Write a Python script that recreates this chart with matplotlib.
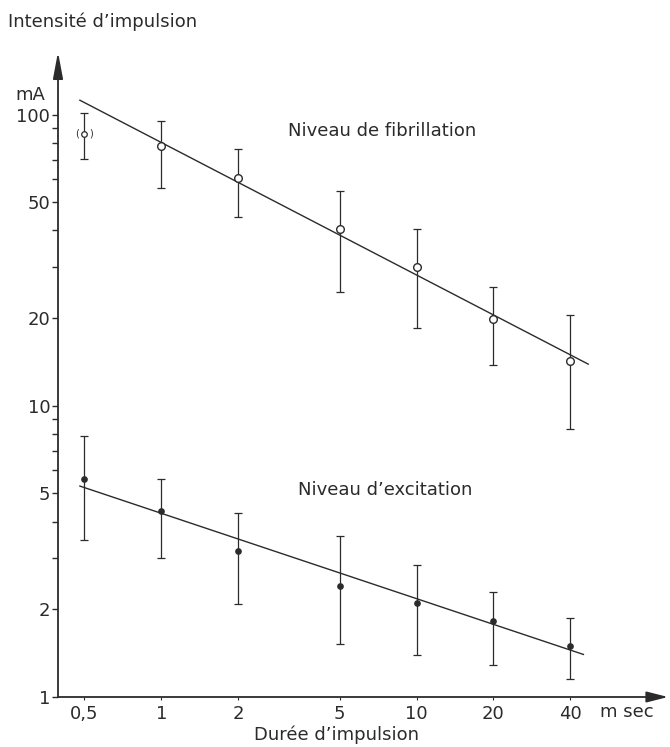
"""Seuils de fibrillation et d'excitation en fonction de la durée d'impulsion."""

import matplotlib
matplotlib.use("Agg")
import matplotlib.pyplot as plt
from matplotlib.ticker import FixedLocator, NullFormatter

# durées d'impulsion (ms)
durations = [0.5, 1, 2, 5, 10, 20, 40]

# niveau de fibrillation (mA), cercles ouverts
fib_mean = [86, 78, 60.5, 40.5, 30, 19.8, 14.2]
fib_low = [70.5, 56, 44.5, 24.5, 18.5, 13.8, 8.3]
fib_high = [101, 95, 76, 54.5, 40.5, 25.5, 20.5]
fib_fit_x = [0.48, 47]
fib_fit_y = [112, 13.9]

# niveau d'excitation (mA), points pleins
exc_mean = [5.6, 4.35, 3.16, 2.41, 2.11, 1.82, 1.5]
exc_low = [3.47, 2.99, 2.08, 1.52, 1.39, 1.29, 1.15]
exc_high = [7.9, 5.6, 4.28, 3.58, 2.83, 2.3, 1.87]
exc_fit_x = [0.48, 45]
exc_fit_y = [5.3, 1.4]

y_ticks = [1, 2, 5, 10, 20, 50, 100]
y_minor = [3, 4, 6, 7, 8, 9, 30, 40, 60, 70, 80, 90]
x_labels = ["0,5", "1", "2", "5", "10", "20", "40"]

INK = "#2b2b2b"
W, H = 670, 747

plt.rcParams["font.family"] = ["DejaVu Sans"]

fig = plt.figure(figsize=(W / 100, H / 100), dpi=100)
ax = fig.add_axes([58 / W, 50 / H, 610 / W, 645 / H])
ax.set_xscale("log")
ax.set_yscale("log")
ax.set_xlim(0.394, 96.5)
ax.set_ylim(1, 164)

for side in ["top", "right", "left", "bottom"]:
    ax.spines[side].set_visible(False)

# axes avec flèches
ax.annotate("", xy=(0, 1), xytext=(0, 0), xycoords="axes fraction",
            arrowprops=dict(arrowstyle="-|>,head_length=1.6,head_width=0.3",
                            lw=1.3, color=INK, shrinkA=0, shrinkB=0),
            annotation_clip=False)
ax.annotate("", xy=(1, 0), xytext=(0, 0), xycoords="axes fraction",
            arrowprops=dict(arrowstyle="-|>,head_length=1.3,head_width=0.33",
                            lw=1.3, color=INK, shrinkA=0, shrinkB=0),
            annotation_clip=False)

ax.yaxis.set_major_locator(FixedLocator(y_ticks))
ax.yaxis.set_minor_locator(FixedLocator(y_minor))
ax.yaxis.set_minor_formatter(NullFormatter())
ax.set_yticklabels([str(v) for v in y_ticks])
ax.tick_params(axis="y", which="both", direction="out", length=4.5,
               width=1.0, color=INK, labelsize=13, labelcolor=INK, pad=1)

ax.xaxis.set_major_locator(FixedLocator(durations))
ax.xaxis.set_minor_formatter(NullFormatter())
ax.xaxis.set_minor_locator(FixedLocator([]))
ax.set_xticklabels(x_labels)
ax.tick_params(axis="x", which="both", direction="out", length=2,
               width=0.8, color=INK, labelsize=13, labelcolor=INK, pad=4)

# fibrillation
fib_err = [[m - lo for m, lo in zip(fib_mean, fib_low)],
           [hi - m for m, hi in zip(fib_mean, fib_high)]]
ax.errorbar(durations, fib_mean, yerr=fib_err, fmt="none", ecolor=INK,
            elinewidth=0.9, capsize=3, capthick=0.9)
ax.plot(fib_fit_x, fib_fit_y, color=INK, lw=1.0)
ax.plot(durations[1:], fib_mean[1:], "o", ms=5.5, mfc="white", mec=INK,
        mew=1.0)
ax.plot(durations[:1], fib_mean[:1], "o", ms=4, mfc="white", mec=INK,
        mew=0.9)
ax.annotate("(", (durations[0], fib_mean[0]), xytext=(-5, 0),
            textcoords="offset points", ha="center", va="center",
            fontsize=7, color=INK)
ax.annotate(")", (durations[0], fib_mean[0]), xytext=(5, 0),
            textcoords="offset points", ha="center", va="center",
            fontsize=7, color=INK)

# excitation
exc_err = [[m - lo for m, lo in zip(exc_mean, exc_low)],
           [hi - m for m, hi in zip(exc_mean, exc_high)]]
ax.errorbar(durations, exc_mean, yerr=exc_err, fmt="none", ecolor=INK,
            elinewidth=0.9, capsize=3, capthick=0.9)
ax.plot(exc_fit_x, exc_fit_y, color=INK, lw=1.0)
ax.plot(durations, exc_mean, "o", ms=3.8, mfc=INK, mec=INK)


def ftext(x, y, s, **kw):
    fig.text(x / W, 1 - y / H, s, color=INK, va="center", **kw)


ftext(8, 22, "Intensité d’impulsion", fontsize=13)
ftext(15, 95, "mA", fontsize=13)
ftext(288, 131, "Niveau de fibrillation", fontsize=13)
ftext(298, 490, "Niveau d’excitation", fontsize=13)
ftext(337, 735, "Durée d’impulsion", fontsize=13, ha="center")
ftext(600, 712, "m sec", fontsize=13)

fig.savefig("out.png", dpi=100, facecolor="white")
